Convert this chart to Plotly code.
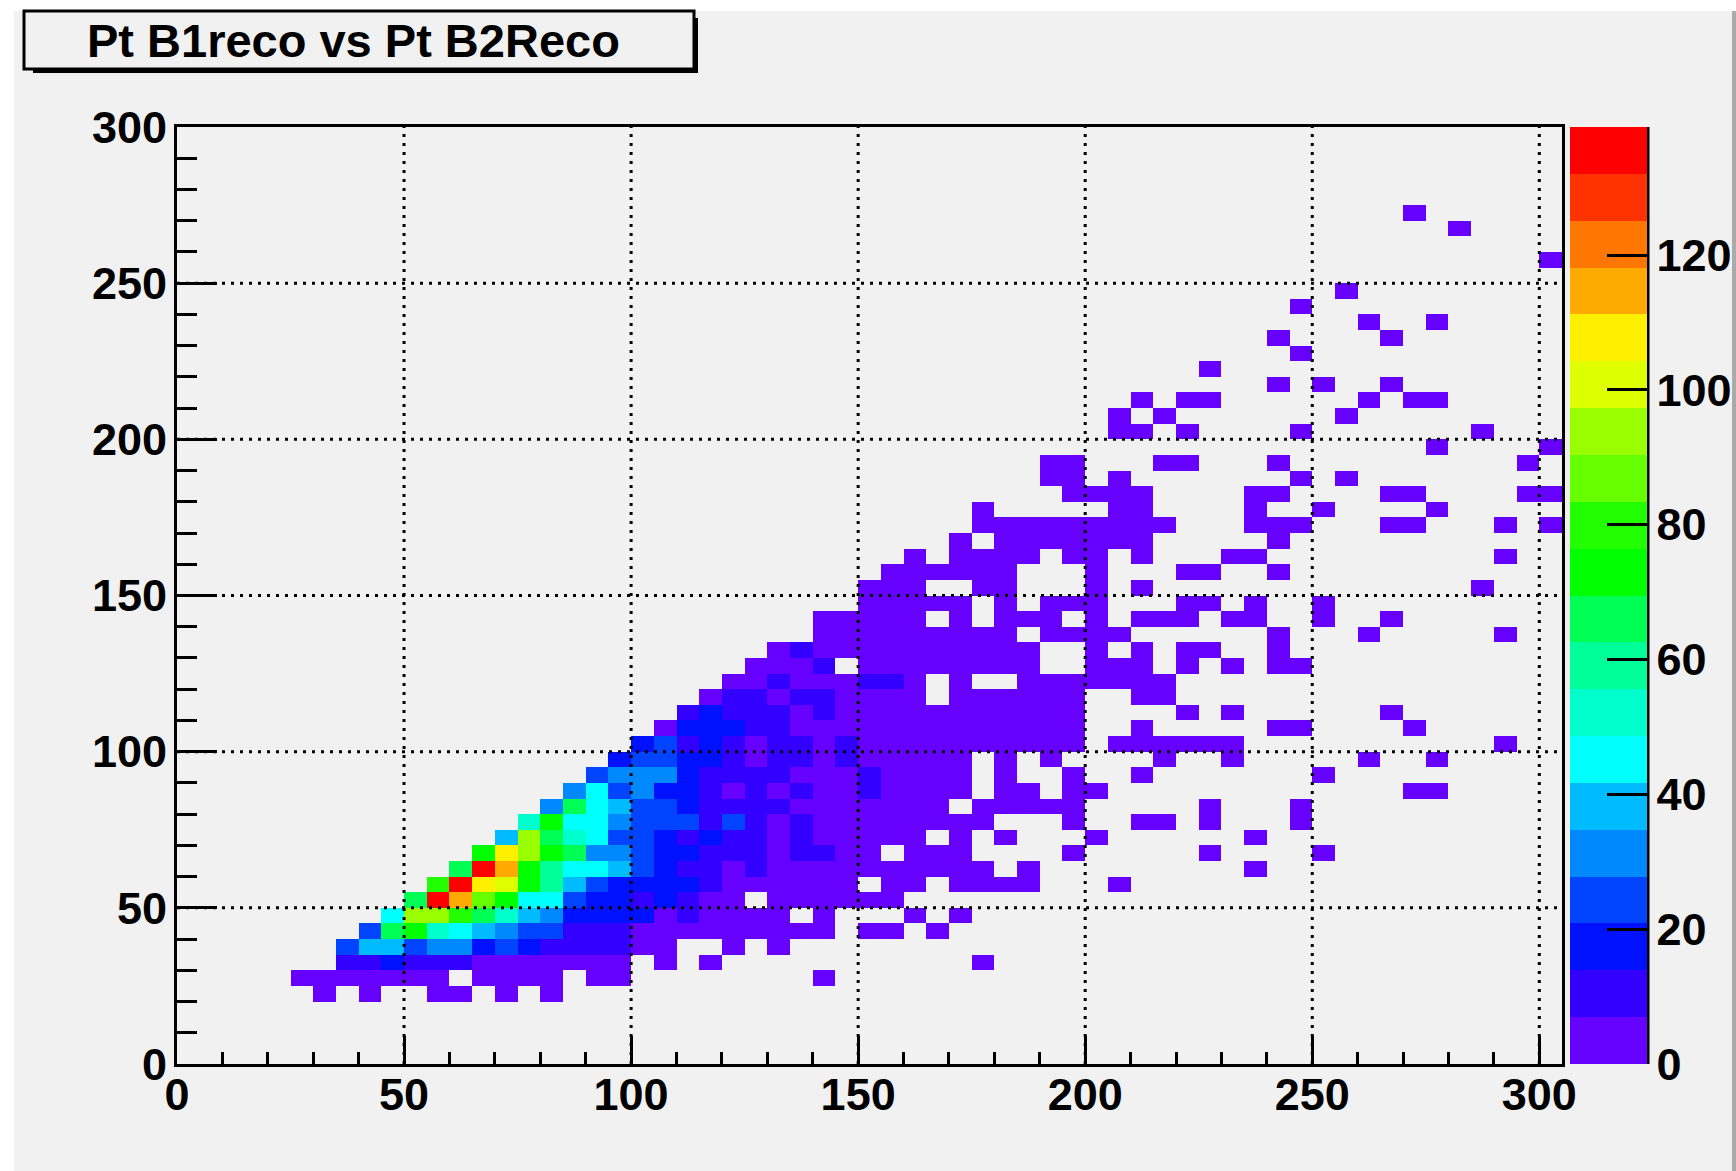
import plotly.graph_objects as go

title_text = "Pt B1reco vs Pt B2Reco"
x_ticks = [0, 50, 100, 150, 200, 250, 300]
y_ticks = [0, 50, 100, 150, 200, 250, 300]
z_ticks = [0, 20, 40, 60, 80, 100, 120]
bin_width = 5
n_x_bins = 61
n_y_bins = 60
z_top = 139

band_colors = ["#6600FF", "#3300FF", "#0011FF", "#0044FF", "#0088FF", "#00BBFF", "#00FFFF",
               "#00FFCC", "#00FF99", "#00FF55", "#00FF00", "#22FF00", "#66FF00", "#99FF00",
               "#DDFF00", "#FFF000", "#FFAA00", "#FF7700", "#FF3300", "#FF0000"]

# y bin index: (first x bin index, counts from that x bin on; 0 = empty bin)
rows = {
    4: (6, [3,0,3,0,0,3,3,0,3,0,3]),
    5: (5, [3,3,3,3,3,3,3,0,3,3,3,3,0,3,3,0,0,0,0,0,0,0,0,3]),
    6: (7, [10,10,17,10,10,10,3,3,3,3,3,3,3,0,3,0,3,0,0,0,0,0,0,0,0,0,0,0,3]),
    7: (7, [24,38,38,24,31,31,17,24,17,10,10,10,10,3,3,0,0,3,0,3]),
    8: (8, [24,66,73,52,45,38,31,24,24,10,10,10,3,3,3,3,3,3,3,3,3,0,3,3,0,3]),
    9: (9, [45,94,94,80,66,52,38,31,17,17,17,17,3,10,3,3,3,3,0,3,0,0,0,3,0,3]),
    10: (10, [66,136,115,87,73,45,45,24,17,17,10,17,10,3,3,0,3,3,3,3,3,3]),
    11: (11, [80,136,108,101,73,59,38,24,17,17,17,17,10,3,3,3,3,3,3,0,3,3,0,3,3,3,3,0,0,0,3]),
    12: (12, [66,136,115,73,59,45,45,38,24,17,10,10,3,10,3,3,3,3,3,3,3,3,3,3,0,3,0,0,0,0,0,0,0,0,0,3]),
    13: (13, [73,108,94,73,66,31,31,24,17,17,10,10,10,3,10,10,3,3,0,3,3,3,0,0,0,0,3,0,0,0,0,0,3,0,0,0,0,3]),
    14: (14, [38,94,66,52,45,24,24,17,10,17,10,10,3,10,3,3,3,3,3,0,3,0,3,0,0,0,3,0,0,0,0,0,0,3]),
    15: (15, [52,73,45,45,31,24,24,24,10,24,10,3,10,3,3,3,3,3,3,3,3,0,0,0,3,0,0,3,3,0,3,0,0,0,3]),
    16: (16, [31,66,45,38,24,24,17,10,10,10,10,3,3,3,3,3,3,3,0,3,3,3,3,3,0,0,0,0,0,3,0,0,0,3]),
    17: (17, [31,45,24,31,17,17,10,3,10,3,10,3,3,10,3,3,3,3,0,3,3,0,3,3,0,0,0,0,0,0,0,0,0,0,0,0,0,3,3]),
    18: (18, [24,31,31,31,17,10,10,10,10,3,3,3,10,3,3,3,3,0,3,0,0,3,0,0,3,0,0,0,0,0,0,0,3]),
    19: (19, [17,24,24,17,17,10,3,10,10,3,10,3,3,3,3,3,0,3,0,3,0,0,0,0,3,0,0,3,0,0,0,0,0,3,0,0,3]),
    20: (20, [17,24,10,17,10,3,10,10,3,10,3,3,3,3,3,3,3,3,3,3,0,3,3,3,3,3,3,0,0,0,0,0,0,0,0,0,0,0,3]),
    21: (21, [3,17,17,17,10,10,3,3,3,3,3,3,3,3,3,3,3,3,3,0,0,3,0,0,0,0,0,3,3,0,0,0,0,3]),
    22: (22, [10,17,10,10,10,3,10,3,3,3,3,3,3,3,3,3,3,3,0,0,0,0,3,0,3,0,0,0,0,0,0,3]),
    23: (23, [3,10,10,3,10,10,3,3,3,3,0,3,3,3,3,3,3,0,0,3,3]),
    24: (24, [3,3,10,3,3,3,10,10,3,0,3,0,0,3,3,3,3,3,3,3]),
    25: (25, [3,3,3,10,0,3,3,3,3,3,3,3,3,0,0,3,3,3,0,3,0,3,0,3,3]),
    26: (26, [3,10,3,3,3,3,3,3,3,3,3,3,0,0,3,0,3,0,3,3,0,0,3]),
    27: (28, [3,3,3,3,3,3,3,3,3,0,3,3,3,3,0,0,0,0,0,0,3,0,0,0,3,0,0,0,0,0,3]),
    28: (28, [3,3,3,3,3,0,3,0,3,3,3,0,3,0,3,3,3,0,3,3,0,0,3,0,0,3]),
    29: (30, [3,3,3,3,3,0,3,0,3,3,3,0,0,0,3,3,0,3,0,0,3]),
    30: (30, [3,3,3,0,0,3,3,0,0,0,3,0,3,0,0,0,0,0,0,0,0,0,0,0,0,0,0,3]),
    31: (31, [3,3,3,3,3,3,0,0,0,3,0,0,0,3,3,0,0,3]),
    32: (32, [3,0,3,3,3,3,0,3,3,0,3,0,0,0,3,3,0,0,0,0,0,0,0,0,0,0,3]),
    33: (34, [3,0,3,3,3,3,3,3,3,0,0,0,0,0,3]),
    34: (35, [3,3,3,3,3,3,3,3,3,0,0,0,3,3,3,0,0,0,3,3,0,0,0,3,0,3]),
    35: (35, [3,0,0,0,0,0,3,3,0,0,0,0,3,0,0,3,0,0,0,0,3]),
    36: (39, [3,3,3,3,0,0,0,0,3,3,0,0,0,0,3,3,0,0,0,0,3,3]),
    37: (38, [3,3,0,3,0,0,0,0,0,0,0,3,0,3]),
    38: (38, [3,3,0,0,0,3,3,0,0,0,3,0,0,0,0,0,0,0,0,0,0,3]),
    39: (55, [3,0,0,0,0,3]),
    40: (41, [3,3,0,3,0,0,0,0,3,0,0,0,0,0,0,0,3]),
    41: (41, [3,0,3,0,0,0,0,0,0,0,3]),
    42: (42, [3,0,3,3,0,0,0,0,0,0,3,0,3,3]),
    43: (48, [3,0,3,0,0,3]),
    44: (45, [3]),
    45: (49, [3]),
    46: (48, [3,0,0,0,0,3]),
    47: (52, [3,0,0,3]),
    48: (49, [3]),
    49: (51, [3]),
    51: (60, [3]),
    53: (56, [3]),
    54: (54, [3]),
}

W, H = 1736, 1171
L, R, T, B = 177, 1562, 127, 1064
PW, PH = R - L, B - T


def px(v):
    return (v - L) / PW


def py(v):
    return (B - v) / PH


z = [[None] * n_x_bins for _ in range(n_y_bins)]
for j, (start, values) in rows.items():
    for k, v in enumerate(values):
        if v:
            z[j][start + k] = v

n = len(band_colors)
colorscale = []
for k, c in enumerate(band_colors):
    colorscale.append([k / n, c])
    colorscale.append([(k + 1) / n, c])

FONT = "Liberation Sans"
GRAY = "#F1F1F1"
fig = go.Figure(go.Heatmap(
    z=z, x0=bin_width / 2, dx=bin_width, y0=bin_width / 2, dy=bin_width,
    zmin=0, zmax=z_top, colorscale=colorscale, hoverongaps=False,
    colorbar=dict(
        x=px(1570), xanchor="left", xpad=0, y=0, yanchor="bottom", ypad=0,
        len=1, lenmode="fraction", thickness=77, thicknessmode="pixels",
        outlinewidth=0, borderwidth=0, tickmode="array", tickvals=z_ticks,
        ticktext=[str(t) for t in z_ticks], ticks="inside", ticklen=40,
        tickwidth=3, tickcolor="black",
        tickfont=dict(family=FONT, size=45, color="black", weight=700),
    ),
))

shapes = [
    dict(type="rect", xref="paper", yref="paper", x0=px(14), x1=px(W), y0=py(H), y1=py(11),
         fillcolor=GRAY, line_width=0, layer="below"),
    dict(type="rect", xref="paper", yref="paper", x0=px(1732), x1=px(W), y0=py(H), y1=py(11),
         fillcolor="#AAAAAA", line_width=0, layer="below"),
    dict(type="rect", xref="paper", yref="paper", x0=px(33), x1=px(698), y0=py(73), y1=py(18),
         fillcolor="black", line_width=0, layer="below"),
    dict(type="rect", xref="paper", yref="paper", x0=px(24), x1=px(694), y0=py(69), y1=py(11),
         fillcolor=GRAY, line=dict(color="black", width=3), layer="below"),
    dict(type="line", xref="paper", yref="paper", x0=px(1648), x1=px(1648), y0=0, y1=1,
         line=dict(color="black", width=3), layer="above"),
]
grid = dict(color="black", width=3, dash="3px,6px")
for t in x_ticks[1:]:
    shapes.append(dict(type="line", xref="x", yref="y", x0=t, x1=t, y0=0, y1=300, line=grid, layer="above"))
for t in y_ticks[1:-1]:
    shapes.append(dict(type="line", xref="x", yref="y", x0=0, x1=305, y0=t, y1=t, line=grid, layer="above"))

tickfont = dict(family=FONT, size=45, color="black", weight=700)
fig.update_layout(
    width=W, height=H, autosize=False,
    margin=dict(l=L, r=W - R, t=T, b=H - B, pad=0, autoexpand=False),
    paper_bgcolor="white", plot_bgcolor=GRAY,
    shapes=shapes,
    annotations=[dict(text=title_text, xref="paper", yref="paper", x=px(353), y=py(41),
                      xanchor="center", yanchor="middle", showarrow=False,
                      font=dict(family=FONT, size=47, color="black", weight=700))],
    xaxis=dict(range=[0, 305], tickmode="array", tickvals=x_ticks, ticks="inside", ticklen=28,
               tickwidth=2.5, tickcolor="black", showline=True, linecolor="black", linewidth=3,
               mirror=True, showgrid=False, zeroline=False, tickfont=tickfont, layer="above traces",
               ticklabelstandoff=-11,
               minor=dict(tickmode="linear", tick0=0, dtick=10, ticks="inside", ticklen=12,
                          tickwidth=2.5, tickcolor="black", showgrid=False)),
    yaxis=dict(range=[0, 300], tickmode="array", tickvals=y_ticks, ticks="inside", ticklen=40,
               tickwidth=2.5, tickcolor="black", showline=True, linecolor="black", linewidth=3,
               mirror=True, showgrid=False, zeroline=False, tickfont=tickfont, layer="above traces",
               ticklabelstandoff=-2,
               minor=dict(tickmode="linear", tick0=0, dtick=10, ticks="inside", ticklen=20,
                          tickwidth=2.5, tickcolor="black", showgrid=False)),
)
fig.write_html("out.html", config=dict(displayModeBar=False),
               post_script="document.body.style.margin='0';document.body.style.overflow='hidden';")
